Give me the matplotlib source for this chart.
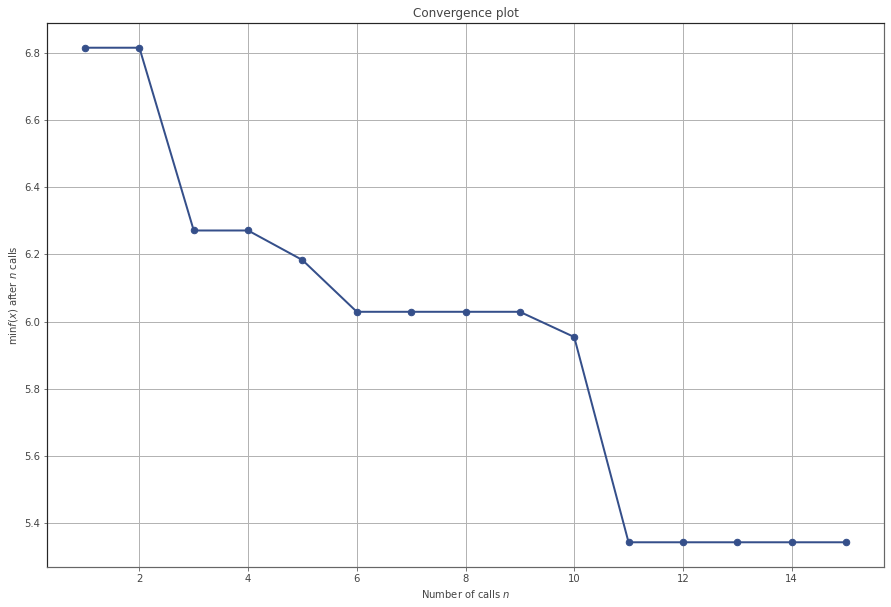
import matplotlib
matplotlib.use("Agg")
import matplotlib.pyplot as plt

# Convergence data (minimum objective found after n calls)
n_calls = [1, 2, 3, 4, 5, 6, 7, 8, 9, 10, 11, 12, 13, 14, 15]
min_vals = [6.815, 6.815, 6.271, 6.271, 6.183, 6.029, 6.029, 6.029, 6.029,
            5.954, 5.343, 5.343, 5.343, 5.343, 5.343]

plt.rcParams["font.family"] = "DejaVu Sans"
plt.rcParams["font.size"] = 10
plt.rcParams["text.color"] = "#444444"
plt.rcParams["axes.labelcolor"] = "#444444"
plt.rcParams["xtick.color"] = "#444444"
plt.rcParams["ytick.color"] = "#444444"

fig = plt.figure(figsize=(891 / 72, 607 / 72), dpi=72)
ax = fig.add_axes([47 / 891, 1 - 567 / 607, (884 - 47) / 891, (567 - 23) / 607])
ax.set_facecolor("white")

ax.plot(n_calls, min_vals, color="#354f8a", marker="o", markersize=6.5,
        linewidth=2, zorder=3)

ax.grid(True, color="#b3b3b3", linewidth=1)
ax.set_axisbelow(True)
ax.tick_params(direction="out", length=3.5, width=0.8, color="#555555")

ax.spines["left"].set_color("#262626")
ax.spines["top"].set_color("#262626")
ax.spines["right"].set_color("#666666")
ax.spines["bottom"].set_color("#666666")
for sp in ax.spines.values():
    sp.set_linewidth(1.2)

ax.set_title("Convergence plot", fontsize=12)
ax.set_xlabel("Number of calls $n$")
ax.set_ylabel(r"$\min f(x)$ after $n$ calls")

fig.savefig("out.png", dpi=72, facecolor="white")
